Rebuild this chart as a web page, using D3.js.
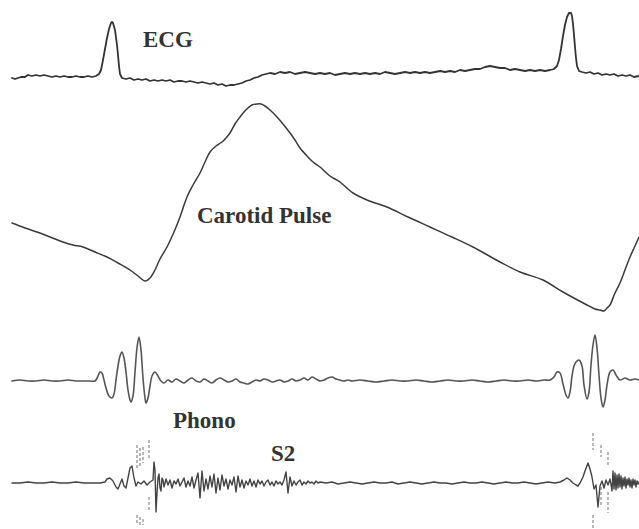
<!DOCTYPE html>
<html><head><meta charset="utf-8">
<script src="https://cdn.jsdelivr.net/npm/d3@7"></script>
<style>html,body{margin:0;padding:0;background:#fff;}svg{display:block;}</style>
</head><body>
<svg id="c" width="639" height="529"></svg>
<script>
// time in ms, amplitude in arbitrary units (a.u.)
const ecg = [[24,-2],[30,-3],[36,-2],[42,-1],[50,-1],[56,1],[64,0],[72,1],[80,0],[88,1],[96,0],[104,-1],[112,0],[120,-1],[128,0],[136,-1],[144,-1],[152,0],[160,-1],[168,-1],[176,0],[184,-1],[192,0],[198,2],[202,6],[206,16],[210,27],[214,38],[218,47],[222,53],[224,54],[226,53],[230,46],[234,31],[236,21],[238,10],[240,2],[244,-2],[252,-3],[260,-2],[268,-4],[276,-3],[284,-4],[292,-3],[300,-5],[308,-4],[316,-5],[324,-4],[332,-5],[340,-4],[348,-6],[356,-5],[364,-5],[372,-6],[380,-5],[388,-6],[396,-7],[404,-6],[412,-7],[420,-8],[428,-7],[436,-9],[444,-8],[452,-10],[460,-9],[468,-9],[476,-8],[484,-7],[492,-5],[500,-4],[508,-2],[516,-1],[524,1],[532,2],[540,3],[550,2],[560,4],[570,3],[580,4],[590,2],[600,3],[610,4],[620,3],[630,2],[640,3],[650,2],[660,3],[670,1],[680,2],[690,3],[700,2],[710,3],[720,2],[730,3],[740,2],[750,3],[760,2],[770,4],[780,3],[790,2],[800,3],[810,4],[820,3],[830,4],[840,3],[850,4],[860,3],[870,4],[880,5],[890,4],[900,5],[910,4],[920,6],[930,5],[940,6],[950,7],[960,7],[970,9],[980,10],[990,9],[1000,8],[1010,8],[1020,6],[1030,7],[1040,6],[1050,5],[1060,6],[1070,5],[1080,6],[1090,5],[1100,6],[1108,7],[1114,10],[1118,16],[1122,27],[1126,40],[1130,51],[1134,59],[1138,63],[1142,63],[1144,60],[1146,52],[1148,41],[1150,29],[1152,18],[1154,10],[1158,5],[1164,4],[1172,3],[1180,4],[1188,2],[1196,3],[1204,1],[1212,2],[1220,1],[1228,2],[1236,0],[1244,1],[1252,0],[1260,1],[1268,-1],[1278,0]];

const carotid = [[24,89],[50,84],[74,80],[100,75],[126,70],[146,67],[166,65],[190,60],[214,55],[236,49],[260,42],[276,36],[290,31],[300,34],[310,42],[320,53],[334,65],[348,80],[360,95],[374,115],[386,127],[400,139],[410,150],[420,160],[432,166],[444,170],[452,174],[460,179],[470,188],[480,195],[488,200],[496,204],[504,207],[514,208],[522,208],[530,206],[540,202],[554,195],[566,188],[580,179],[590,172],[600,164],[614,156],[626,150],[640,145],[660,136],[680,130],[706,119],[734,112],[774,105],[816,95],[860,85],[904,75],[946,65],[1000,50],[1040,40],[1086,32],[1126,20],[1174,7],[1190,3],[1200,2],[1208,1],[1214,4],[1220,7],[1230,19],[1240,29],[1250,42],[1260,55],[1270,66],[1278,75]];

const phono = [[24,0],[40,1],[56,0],[72,0],[88,1],[104,0],[120,0],[136,1],[152,0],[168,0],[180,0],[190,0],[196,5],[200,9],[204,8],[208,1],[212,-7],[218,-15],[224,-17],[228,-13],[232,1],[236,15],[240,25],[244,29],[248,23],[252,9],[256,-9],[260,-19],[262,-21],[266,-15],[270,9],[274,33],[278,44],[282,31],[286,3],[290,-17],[292,-22],[296,-17],[300,-5],[304,5],[310,9],[316,5],[322,0],[328,-2],[336,1],[344,-1],[352,2],[360,0],[368,-2],[376,1],[384,3],[392,0],[400,-1],[408,2],[416,0],[424,-2],[432,1],[440,3],[448,1],[456,-1],[464,0],[472,2],[480,-1],[488,-2],[496,-3],[504,-1],[512,1],[520,0],[528,2],[536,1],[544,-1],[552,0],[560,1],[568,-1],[576,0],[584,2],[592,0],[600,1],[608,3],[616,1],[624,4],[632,2],[640,0],[648,1],[656,3],[664,4],[672,2],[680,1],[688,0],[696,1],[704,0],[720,1],[736,0],[752,-1],[768,0],[784,1],[800,0],[816,0],[832,1],[848,0],[864,-1],[880,0],[896,1],[912,0],[928,0],[944,1],[960,0],[976,-1],[992,0],[1008,1],[1024,0],[1040,0],[1056,1],[1072,0],[1088,1],[1100,1],[1108,4],[1114,9],[1120,8],[1126,-3],[1132,-14],[1136,-17],[1140,-11],[1144,5],[1148,15],[1152,19],[1158,21],[1164,15],[1168,-4],[1174,-18],[1178,-11],[1182,16],[1186,36],[1190,46],[1194,33],[1198,6],[1202,-17],[1206,-26],[1210,-19],[1214,-4],[1220,9],[1226,11],[1232,6],[1240,1],[1250,3],[1260,1],[1270,2],[1278,1]];

const s2 = [[24,0],[40,0],[56,1],[72,0],[88,0],[104,1],[120,0],[136,0],[152,1],[168,0],[184,0],[200,0],[210,1],[214,4],[220,5],[226,2],[232,-4],[236,-6],[240,-1],[244,4],[248,-3],[252,-5],[256,5],[260,15],[264,17],[268,5],[272,-3],[276,1],[282,-1],[288,2],[294,-2],[300,1],[306,3],[308,21],[310,13],[312,-29],[314,-10],[316,5],[318,9],[320,-5],[322,-8],[324,5],[326,3],[328,-4],[332,4],[336,-2],[340,3],[344,-5],[348,2],[352,-1],[356,4],[360,-3],[364,1],[368,5],[372,-4],[376,2],[380,-3],[384,6],[388,-5],[392,3],[396,10],[400,-15],[404,12],[408,-8],[412,4],[416,-6],[420,7],[424,-4],[428,9],[432,-10],[436,5],[440,-7],[444,8],[448,-3],[452,4],[456,-6],[460,3],[464,-2],[468,6],[472,-9],[476,7],[480,-4],[484,3],[488,-5],[492,2],[496,-2],[500,4],[504,-3],[508,2],[512,-4],[516,3],[520,-1],[524,2],[528,-3],[532,1],[536,3],[540,-2],[544,1],[548,-3],[552,2],[556,-1],[560,1],[564,-2],[568,3],[572,11],[576,-10],[580,6],[584,-3],[588,2],[592,-2],[596,1],[600,3],[604,-2],[608,1],[612,-1],[616,2],[620,0],[624,1],[628,-1],[632,2],[636,0],[640,1],[652,0],[664,1],[676,-1],[688,0],[700,1],[712,0],[724,-1],[736,0],[748,1],[760,0],[772,0],[784,1],[796,-1],[808,0],[820,1],[832,0],[844,-1],[856,0],[868,1],[880,0],[892,0],[904,-1],[916,0],[928,1],[940,0],[952,0],[964,1],[976,0],[988,-1],[1000,0],[1012,1],[1024,0],[1036,0],[1048,1],[1060,0],[1072,-1],[1084,0],[1096,1],[1110,0],[1120,1],[1128,3],[1134,5],[1140,3],[1146,0],[1152,-2],[1156,-3],[1160,0],[1166,6],[1170,12],[1176,20],[1180,14],[1184,6],[1188,-6],[1192,-2],[1196,-24],[1200,-3],[1204,2],[1208,-5],[1212,3],[1216,-2],[1220,4],[1224,-8],[1226,12],[1228,-6],[1230,10],[1232,-7],[1234,8],[1236,-5],[1238,9],[1240,-4],[1242,7],[1244,-6],[1246,5],[1248,-3],[1250,6],[1252,-5],[1254,4],[1256,-2],[1258,5],[1260,-4],[1262,3],[1264,-5],[1266,4],[1268,-2],[1270,3],[1272,-4],[1274,2],[1276,-1],[1278,1]];

// faint high-frequency excursions of the S2 trace: [time, from, to]
const s2Spikes = [[274,38,13],[274,-32,-42],[280,35,15],[280,-34,-44],[286,36,20],[286,-36,-42],[298,43,25],[298,-14,-29],[1186,50,33],[1186,-32,-45],[1202,38,26],[1202,-4,-24],[1216,31,18],[1216,-9,-30]];

const labels = ["ECG","Carotid Pulse","Phono","S2"];

const svg = d3.select("#c");
const W = 639, H = 529;
const x = d3.scaleLinear().domain([0,1278]).range([0,W]);

const yEcg = d3.scaleLinear().domain([0,60]).range([76,16]);
const yCar = d3.scaleLinear().domain([0,208]).range([312,104]);
const yPho = d3.scaleLinear().domain([0,46]).range([381,335]);
const yS2  = d3.scaleLinear().domain([0,50]).range([483,433]);

const ink = "#3a3a3a";

function trace(data, y, curve, w, col){
  svg.append("path").datum(data)
    .attr("fill","none").attr("stroke",col||ink).attr("stroke-width",w)
    .attr("stroke-linejoin","round").attr("stroke-linecap","round")
    .attr("d", d3.line().x(d=>x(d[0])).y(d=>y(d[1])).curve(curve));
}

// faint dashed spikes behind S2
svg.append("g").selectAll("line").data(s2Spikes).join("line")
  .attr("x1",d=>x(d[0])).attr("x2",d=>x(d[0]))
  .attr("y1",d=>yS2(d[1])).attr("y2",d=>yS2(d[2]))
  .attr("stroke","#8a8a8a").attr("stroke-width",1.2)
  .attr("stroke-dasharray","3,2");

trace(ecg, yEcg, d3.curveLinear, 1.8, "#333");
trace(carotid, yCar, d3.curveCatmullRom, 1.5);
trace(phono, yPho, d3.curveCatmullRom, 1.6, "#555");
trace(s2, yS2, d3.curveLinear, 1.4, "#444");

const lab = [
  {t:labels[0], x:143, y:47},
  {t:labels[1], x:197, y:223},
  {t:labels[2], x:173, y:428},
  {t:labels[3], x:271, y:461}
];
svg.append("g").selectAll("text").data(lab).join("text")
  .attr("x",d=>d.x).attr("y",d=>d.y)
  .attr("font-family","'Liberation Serif','Times New Roman',serif")
  .attr("font-weight","bold").attr("font-size",23)
  .attr("fill","#333").text(d=>d.t);
</script>
</body></html>
